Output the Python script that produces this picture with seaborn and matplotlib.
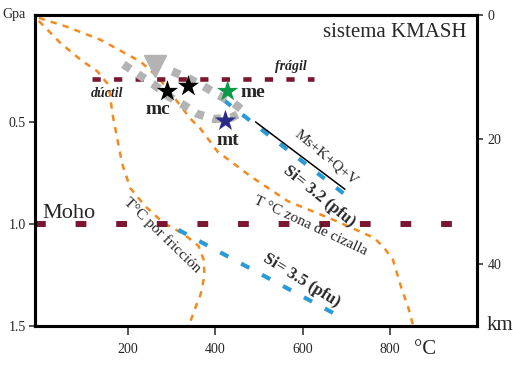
import matplotlib
matplotlib.use("Agg")
import matplotlib.pyplot as plt
import seaborn as sns
import numpy as np

geot_cizalla_T = [-5, 60, 136, 228, 269, 308, 343, 366, 405, 442, 481, 566, 672, 764, 787, 807, 826, 842, 853]
geot_cizalla_P = [-0.01, 0.034, 0.097, 0.204, 0.282, 0.388, 0.485, 0.534, 0.646, 0.704, 0.767, 0.888, 0.981, 1.068, 1.117, 1.175, 1.311, 1.408, 1.495]

geot_friccion_T = [-5, 44, 90, 129, 152, 159, 163, 175, 186, 205, 239, 281, 327, 361, 373, 375, 366, 350, 340]
geot_friccion_P = [0.005, 0.112, 0.194, 0.252, 0.311, 0.374, 0.451, 0.583, 0.704, 0.825, 0.913, 0.995, 1.049, 1.107, 1.175, 1.252, 1.345, 1.432, 1.495]

si32_T = [419, 699]
si32_P = [0.393, 0.859]
si35_T = [315, 683]
si35_P = [1.029, 1.451]
ms_T = [492, 697]
ms_P = [0.50, 0.83]

fragil_T = [117, 626]
fragil_P = [0.29, 0.29]
moho_T = [-14, 952]
moho_P = [1.0, 1.0]

# trayectoria P-T (gris)
tray_a_T = [189, 223, 258, 292, 327, 359, 396, 435, 465]
tray_a_P = [0.218, 0.267, 0.316, 0.374, 0.417, 0.461, 0.485, 0.481, 0.447]
tray_b_T = [301, 338, 373, 407, 442, 465]
tray_b_P = [0.252, 0.286, 0.325, 0.369, 0.408, 0.447]
flecha_T = [262]
flecha_P = [0.228]

# muestras
muestras_T = [290, 338, 428, 423]
muestras_P = [0.35, 0.325, 0.35, 0.495]
muestras_col = ["black", "black", "#0a9a48", "#2c2a88"]

naranja = "#f4891f"
azul = "#2b9bd6"
granate = "#7a1630"
gris = "#b3b3b3"

sns.set_style("white")
plt.rcParams["font.family"] = ["Liberation Serif", "DejaVu Serif"]

fig = plt.figure(figsize=(5.13, 3.69), dpi=100)
ax = fig.add_axes([0.068, 0.1165, 0.862, 0.8428])

# geotermas
sns.lineplot(x=geot_cizalla_T, y=geot_cizalla_P, sort=False, estimator=None, ax=ax,
             color=naranja, lw=1.8, linestyle=(0, (2.5, 2.5)))
sns.lineplot(x=geot_friccion_T, y=geot_friccion_P, sort=False, estimator=None, ax=ax,
             color=naranja, lw=1.8, linestyle=(0, (2.5, 2.5)))

# isopletas de Si
sns.lineplot(x=si32_T, y=si32_P, sort=False, estimator=None, ax=ax,
             color=azul, lw=3, linestyle=(0, (2.2, 3.5)))
sns.lineplot(x=si35_T, y=si35_P, sort=False, estimator=None, ax=ax,
             color=azul, lw=3, linestyle=(0, (2.2, 3.5)))
sns.lineplot(x=ms_T, y=ms_P, sort=False, estimator=None, ax=ax, color="black", lw=1.1)

# transicion fragil-ductil y Moho
sns.lineplot(x=fragil_T, y=fragil_P, sort=False, estimator=None, ax=ax,
             color=granate, lw=3.3, linestyle=(0, (1.8, 2.9)))
sns.lineplot(x=moho_T, y=moho_P, sort=False, estimator=None, ax=ax,
             color=granate, lw=4.3, linestyle=(0, (1.8, 5)))

# trayectoria P-T
sns.lineplot(x=tray_a_T, y=tray_a_P, sort=False, estimator=None, ax=ax,
             color=gris, lw=6, linestyle=(0, (1, 1.1)))
sns.lineplot(x=tray_b_T, y=tray_b_P, sort=False, estimator=None, ax=ax,
             color=gris, lw=6, linestyle=(0, (1, 1.1)))
ax.plot(flecha_T, flecha_P, marker="v", ms=16, color=gris, ls="none")

sns.scatterplot(x=muestras_T, y=muestras_P, marker="*", s=260, c=muestras_col,
                edgecolor="none", ax=ax, zorder=5)

# textos
ax.text(152, 0.359, "dúctil", fontsize=10, style="italic", weight="bold", ha="center", va="center")
ax.text(573, 0.228, "frágil", fontsize=10, style="italic", weight="bold", ha="center", va="center")
ax.text(267, 0.437, "mc", fontsize=14, weight="bold", ha="center", va="center")
ax.text(485, 0.354, "me", fontsize=14, weight="bold", ha="center", va="center")
ax.text(428, 0.592, "mt", fontsize=14, weight="bold", ha="center", va="center")
ax.text(655, 0.675, "Ms+K+Q+V", fontsize=11, rotation=-40, rotation_mode="anchor", ha="center", va="center")
ax.text(638, 0.865, "Si= 3.2 (pfu)", fontsize=12, weight="bold", rotation=-39, rotation_mode="anchor", ha="center", va="center")
ax.text(618, 1.01, "T °C zona de cizalla", fontsize=11, rotation=-25, rotation_mode="anchor", ha="center", va="center")
ax.text(278, 1.053, "T°C por fricción", fontsize=11, rotation=-44, rotation_mode="anchor", ha="center", va="center")
ax.text(598, 1.275, "Si= 3.5 (pfu)", fontsize=12, weight="bold", rotation=-32, rotation_mode="anchor", ha="center", va="center")
ax.text(64, 0.947, "Moho", fontsize=16, ha="center", va="center")
ax.text(812, 0.063, "sistema KMASH", fontsize=15, ha="center", va="center")

ax.set_xlim(-14, 1000)
ax.set_ylim(1.5, -0.024)
ax.set_xticks([200, 400, 600, 800])
ax.set_yticks([0.5, 1.0, 1.5])
ax.set_yticklabels(["0.5", "1.0", "1.5"])
ax.tick_params(axis="x", direction="out", length=6.5, width=1.1, labelsize=10, pad=6, bottom=True)
ax.tick_params(axis="y", direction="out", length=4.5, width=1.1, labelsize=10, pad=2, left=True)
for s in ax.spines.values():
    s.set_linewidth(2.2)
    s.set_color("black")

ax2 = ax.twinx()
ax2.set_ylim(50, 0)
ax2.set_yticks([0, 20, 40])
ax2.tick_params(axis="y", direction="out", length=4.5, width=1.1, labelsize=10, pad=3, right=True)
for s in ax2.spines.values():
    s.set_linewidth(2.2)
    s.set_color("black")

fig.text(0.004, 0.96, "Gpa", fontsize=10, ha="left", va="center")
fig.text(0.948, 0.117, "km", fontsize=15, ha="left", va="center")
fig.text(0.828, 0.052, "°C", fontsize=15, ha="center", va="center")

fig.savefig("out.png", dpi=100)
